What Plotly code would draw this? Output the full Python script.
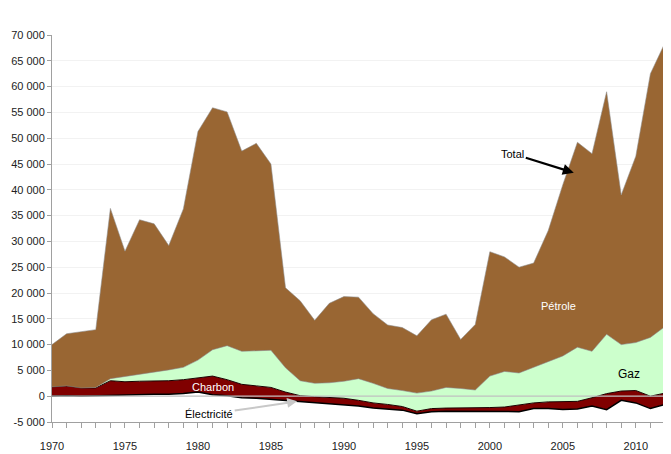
import plotly.graph_objects as go

years = list(range(1970, 2013))

# Values (thousands), per series
electricite = [0.0, 0.1, 0.0, 0.1, 0.2, 0.3, 0.3, 0.4, 0.4, 0.5,
               0.8, 0.3, 0.1, -0.3, -0.4, -0.6, -0.8, -1.0, -1.2, -1.4,
               -1.6, -1.9, -2.3, -2.5, -2.7, -3.4, -3.0, -2.9, -2.9, -2.9,
               -2.9, -2.9, -3.0, -2.4, -2.4, -2.6, -2.5, -1.9, -2.6, -0.8,
               -1.3, -2.4, -1.6]
charbon = [1.8, 1.9, 1.6, 1.5, 2.8, 2.5, 2.6, 2.5, 2.6, 2.7,
           2.7, 3.6, 3.1, 2.6, 2.4, 2.3, 1.6, 1.1, 1.1, 1.2,
           1.2, 1.1, 1.0, 0.9, 0.7, 0.5, 0.6, 0.6, 0.6, 0.6,
           0.7, 0.8, 1.3, 1.1, 1.3, 1.6, 1.5, 1.6, 3.1, 1.8,
           2.4, 2.4, 2.2]
gaz = [0.0, 0.0, 0.0, 0.1, 0.4, 1.0, 1.3, 1.8, 2.1, 2.4,
       3.5, 5.1, 6.6, 6.4, 6.8, 7.2, 4.7, 2.9, 2.6, 2.8,
       3.3, 4.2, 3.8, 3.1, 3.1, 3.5, 3.4, 4.0, 3.8, 3.5,
       6.1, 6.9, 6.2, 6.9, 7.7, 8.8, 10.5, 9.0, 11.5, 9.0,
       9.3, 11.4, 12.9]
petrole = [8.2, 10.1, 10.9, 11.2, 33.0, 24.3, 30.0, 28.7, 24.1, 30.7,
           44.3, 46.9, 45.3, 38.8, 40.2, 36.1, 15.5, 15.5, 12.2, 15.4,
           16.4, 15.8, 13.5, 12.3, 12.2, 11.1, 13.8, 14.2, 9.5, 12.7,
           24.1, 22.2, 20.5, 20.2, 25.5, 33.2, 39.7, 38.3, 47.0, 29.0,
           36.1, 51.1, 55.0]

scale = 1000
electricite = [v * scale for v in electricite]
charbon = [v * scale for v in charbon]
gaz = [v * scale for v in gaz]
petrole = [v * scale for v in petrole]

y_tickvals = [-5000, 0, 5000, 10000, 15000, 20000, 25000, 30000, 35000,
              40000, 45000, 50000, 55000, 60000, 65000, 70000]
y_ticktext = ["-5 000", "0", "5 000", "10 000", "15 000", "20 000", "25 000",
              "30 000", "35 000", "40 000", "45 000", "50 000", "55 000",
              "60 000", "65 000", "70 000"]
x_tickvals = [1970, 1975, 1980, 1985, 1990, 1995, 2000, 2005, 2010]

FONT = "Liberation Sans, Arial, sans-serif"

fig = go.Figure()
fig.add_trace(go.Scatter(x=years, y=electricite, stackgroup="s", mode="lines",
                         fillcolor="white", line=dict(color="black", width=1.5),
                         name="Électricité", hoverinfo="skip"))
fig.add_trace(go.Scatter(x=years, y=charbon, stackgroup="s", mode="lines",
                         fillcolor="#800000", line=dict(color="#1a0000", width=1),
                         name="Charbon", hoverinfo="skip"))
fig.add_trace(go.Scatter(x=years, y=gaz, stackgroup="s", mode="lines",
                         fillcolor="#CCFFCC", line=dict(color="rgba(130,130,130,0.7)", width=0.8),
                         name="Gaz", hoverinfo="skip"))
fig.add_trace(go.Scatter(x=years, y=petrole, stackgroup="s", mode="lines",
                         fillcolor="#996633", line=dict(color="rgba(140,140,140,0.7)", width=0.8),
                         name="Pétrole", hoverinfo="skip"))

# zero reference line drawn above the areas
fig.add_shape(type="line", xref="paper", x0=0, x1=1, yref="y", y0=0, y1=0,
              line=dict(color="#c0c0c0", width=1.2), layer="above")

fig.add_annotation(x=2005.75, y=43300, text="Total", showarrow=True,
                   ax=-61, ay=-19, arrowhead=2, arrowsize=1, arrowwidth=2.2,
                   arrowcolor="black", font=dict(family=FONT, size=11, color="black"))
fig.add_annotation(x=2004.7, y=17400, text="Pétrole", showarrow=False,
                   font=dict(family=FONT, size=11, color="white"))
fig.add_annotation(x=2009.5, y=4300, text="Gaz", showarrow=False,
                   font=dict(family=FONT, size=12, color="black"))
fig.add_annotation(x=1981.0, y=1700, text="Charbon", showarrow=False,
                   font=dict(family=FONT, size=11, color="white"))
fig.add_annotation(x=1986.8, y=-1000, text="Électricité", showarrow=True,
                   ax=-88, ay=13, arrowhead=2, arrowsize=1, arrowwidth=2,
                   arrowcolor="#c8c8c8", font=dict(family=FONT, size=11, color="black"))

# page body has an 8px margin, so the figure is 8px smaller than the window
fig.update_layout(
    width=663, height=446,
    margin=dict(l=44, r=6, t=27, b=32, autoexpand=False),
    paper_bgcolor="white", plot_bgcolor="white",
    showlegend=False,
    font=dict(family=FONT, size=11, color="#222"),
)
fig.update_xaxes(range=[1970, 2012], tickvals=x_tickvals, ticks="outside",
                 ticklen=5, tickcolor="#a0a0a0", showline=True, linecolor="#a0a0a0",
                 linewidth=1, showgrid=False, zeroline=False, automargin=False,
                 minor=dict(dtick=1, tick0=1970, ticks="outside", ticklen=5,
                            tickcolor="#a0a0a0", showgrid=False),
                 ticklabelstandoff=9, tickfont=dict(family=FONT, size=11, color="#222"))
fig.update_yaxes(range=[-5000, 70000], tickvals=y_tickvals, ticktext=y_ticktext,
                 ticks="outside", ticklen=4, tickcolor="#a0a0a0", showline=True,
                 linecolor="#a0a0a0", linewidth=1, mirror=True, automargin=False,
                 showgrid=True, gridcolor="#f2f2f2", zeroline=False,
                 tickfont=dict(family=FONT, size=11, color="#222"))

fig.write_html("out.html")
